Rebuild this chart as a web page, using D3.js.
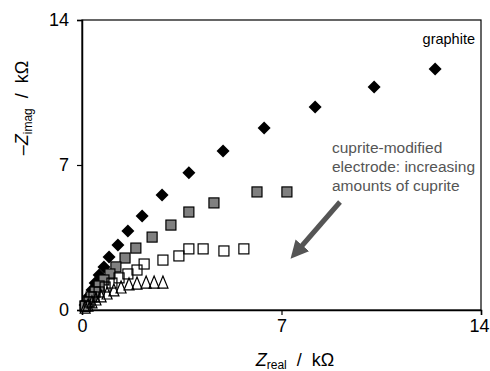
<!DOCTYPE html>
<html>
<head>
<meta charset="utf-8">
<script src="https://cdn.jsdelivr.net/npm/d3@7"></script>
<style>
  html, body { margin: 0; padding: 0; background: #fff; }
  svg { display: block; font-family: "Liberation Sans", Arial, sans-serif; }
  .title { white-space: pre; }
</style>
</head>
<body>
<svg id="chart" width="490" height="371"></svg>
<script>
// Nyquist plots: Z_real vs -Z_imag (kΩ)
const xTicks = [0, 7, 14];
const yTicks = [0, 7, 14];

// graphite electrode
const graphiteX = [12.39, 10.25, 8.18, 6.39, 4.95, 3.75, 2.81, 2.11, 1.61, 1.26, 0.95, 0.77, 0.60, 0.46, 0.35, 0.25, 0.18, 0.11];
const graphiteY = [11.64, 10.77, 9.80, 8.79, 7.68, 6.62, 5.55, 4.54, 3.81, 3.14, 2.56, 2.08, 1.69, 1.30, 0.97, 0.68, 0.43, 0.24];

// cuprite-modified electrodes (increasing cuprite loading)
const cupriteAX = [7.19, 6.14, 4.63, 3.75, 3.12, 2.46, 1.89, 1.51, 1.19, 0.98, 0.77, 0.60, 0.46, 0.32, 0.21, 0.11];
const cupriteAY = [5.70, 5.70, 5.17, 4.73, 4.10, 3.52, 2.99, 2.51, 2.08, 1.74, 1.45, 1.16, 0.87, 0.63, 0.39, 0.19];

const cupriteBX = [5.68, 4.98, 4.25, 3.75, 3.40, 2.84, 2.18, 1.93, 1.61, 1.30, 1.05, 0.81, 0.60, 0.42, 0.25, 0.11];
const cupriteBY = [2.95, 2.85, 2.95, 2.95, 2.61, 2.41, 2.22, 1.93, 1.74, 1.55, 1.30, 1.11, 0.87, 0.63, 0.39, 0.19];

const cupriteCX = [2.84, 2.53, 2.25, 1.93, 1.65, 1.37, 1.12, 0.88, 0.67, 0.49, 0.35, 0.21, 0.11];
const cupriteCY = [1.35, 1.35, 1.35, 1.30, 1.26, 1.11, 0.97, 0.82, 0.68, 0.53, 0.39, 0.24, 0.14];

const svg = d3.select("#chart");
const plotLeft = 82, plotRight = 481, plotTop = 20, plotBottom = 310;

const x = d3.scaleLinear().domain([0, 14]).range([plotLeft, plotRight]);
const y = d3.scaleLinear().domain([0, 14]).range([plotBottom, plotTop]);

// plot frame
svg.append("rect")
  .attr("x", plotLeft).attr("y", plotTop)
  .attr("width", plotRight - plotLeft).attr("height", plotBottom - plotTop)
  .attr("fill", "none").attr("stroke", "#000").attr("stroke-width", 1.2);

// axes
const xAxis = svg.append("g")
  .attr("transform", `translate(0,${plotBottom})`)
  .call(d3.axisBottom(x).tickValues(xTicks).tickSize(5).tickPadding(4).tickFormat(d3.format("d")));
const yAxis = svg.append("g")
  .attr("transform", `translate(${plotLeft},0)`)
  .call(d3.axisLeft(y).tickValues(yTicks).tickSize(5).tickPadding(8).tickFormat(d3.format("d")));
[xAxis, yAxis].forEach(g => {
  g.select(".domain").attr("stroke", "#000").attr("stroke-width", 1.5);
  g.selectAll(".tick line").attr("stroke", "#000").attr("stroke-width", 1.2);
  g.selectAll(".tick text")
    .attr("fill", "#000")
    .style("font-family", "'Liberation Sans', Arial, sans-serif")
    .style("font-size", "18px");
});
// keep the last x label inside the canvas
xAxis.selectAll(".tick text").filter(d => d === 14).attr("dx", -2);

const zip = (xs, ys) => xs.map((v, i) => [v, ys[i]]);

// graphite: filled black diamonds
const dh = 6.5;
svg.append("g").selectAll("path")
  .data(zip(graphiteX, graphiteY)).join("path")
  .attr("d", d => {
    const cx = x(d[0]), cy = y(d[1]);
    return `M${cx},${cy - dh}L${cx + dh},${cy}L${cx},${cy + dh}L${cx - dh},${cy}Z`;
  })
  .attr("fill", "#000");

// grey filled squares
const sq = 10;
svg.append("g").selectAll("rect")
  .data(zip(cupriteAX, cupriteAY)).join("rect")
  .attr("x", d => x(d[0]) - sq / 2).attr("y", d => y(d[1]) - sq / 2)
  .attr("width", sq).attr("height", sq)
  .attr("fill", "#808080").attr("stroke", "#000").attr("stroke-width", 1.2);

// open squares
svg.append("g").selectAll("rect")
  .data(zip(cupriteBX, cupriteBY)).join("rect")
  .attr("x", d => x(d[0]) - sq / 2).attr("y", d => y(d[1]) - sq / 2)
  .attr("width", sq).attr("height", sq)
  .attr("fill", "none").attr("stroke", "#000").attr("stroke-width", 1.2);

// open triangles
const tw = 10, th = 12;
svg.append("g").selectAll("path")
  .data(zip(cupriteCX, cupriteCY)).join("path")
  .attr("d", d => {
    const cx = x(d[0]), cy = y(d[1]);
    return `M${cx},${cy - th / 2}L${cx + tw / 2},${cy + th / 2}L${cx - tw / 2},${cy + th / 2}Z`;
  })
  .attr("fill", "none").attr("stroke", "#000").attr("stroke-width", 1.2);

// annotations
svg.append("text")
  .attr("x", 475).attr("y", 44)
  .attr("text-anchor", "end")
  .style("font-size", "14.5px")
  .attr("fill", "#000")
  .text("graphite");

const note = svg.append("text")
  .attr("x", 332).attr("y", 153)
  .style("font-size", "15.5px")
  .attr("fill", "#555");
["cuprite-modified", "electrode: increasing", "amounts of cuprite"].forEach((t, i) => {
  note.append("tspan").attr("x", 332).attr("dy", i === 0 ? 0 : 19).text(t);
});

// arrow pointing towards the origin
svg.append("defs").append("marker")
  .attr("id", "head").attr("viewBox", "0 0 10 10")
  .attr("refX", 2).attr("refY", 5)
  .attr("markerWidth", 3.6).attr("markerHeight", 3.6)
  .attr("orient", "auto")
  .append("path").attr("d", "M0,0L10,5L0,10Z").attr("fill", "#555");
svg.append("line")
  .attr("x1", 340).attr("y1", 202).attr("x2", 300).attr("y2", 248)
  .attr("stroke", "#555").attr("stroke-width", 5)
  .attr("marker-end", "url(#head)");

// axis titles
const xt = svg.append("text")
  .attr("class", "title")
  .attr("x", 295).attr("y", 366)
  .attr("text-anchor", "middle")
  .style("font-size", "18px")
  .attr("fill", "#000");
xt.append("tspan").style("font-style", "italic").text("Z");
xt.append("tspan").attr("dy", 3).style("font-size", "12px").text("real");
xt.append("tspan").attr("dy", -3).text("  /  kΩ");

const yt = svg.append("text")
  .attr("class", "title")
  .attr("transform", "translate(28,108) rotate(-90)")
  .attr("text-anchor", "middle")
  .style("font-size", "18px")
  .attr("fill", "#000");
yt.append("tspan").text("–");
yt.append("tspan").style("font-style", "italic").text("Z");
yt.append("tspan").attr("dy", 4).style("font-size", "12px").text("imag");
yt.append("tspan").attr("dy", -4).text("  /  kΩ");
</script>
</body>
</html>
